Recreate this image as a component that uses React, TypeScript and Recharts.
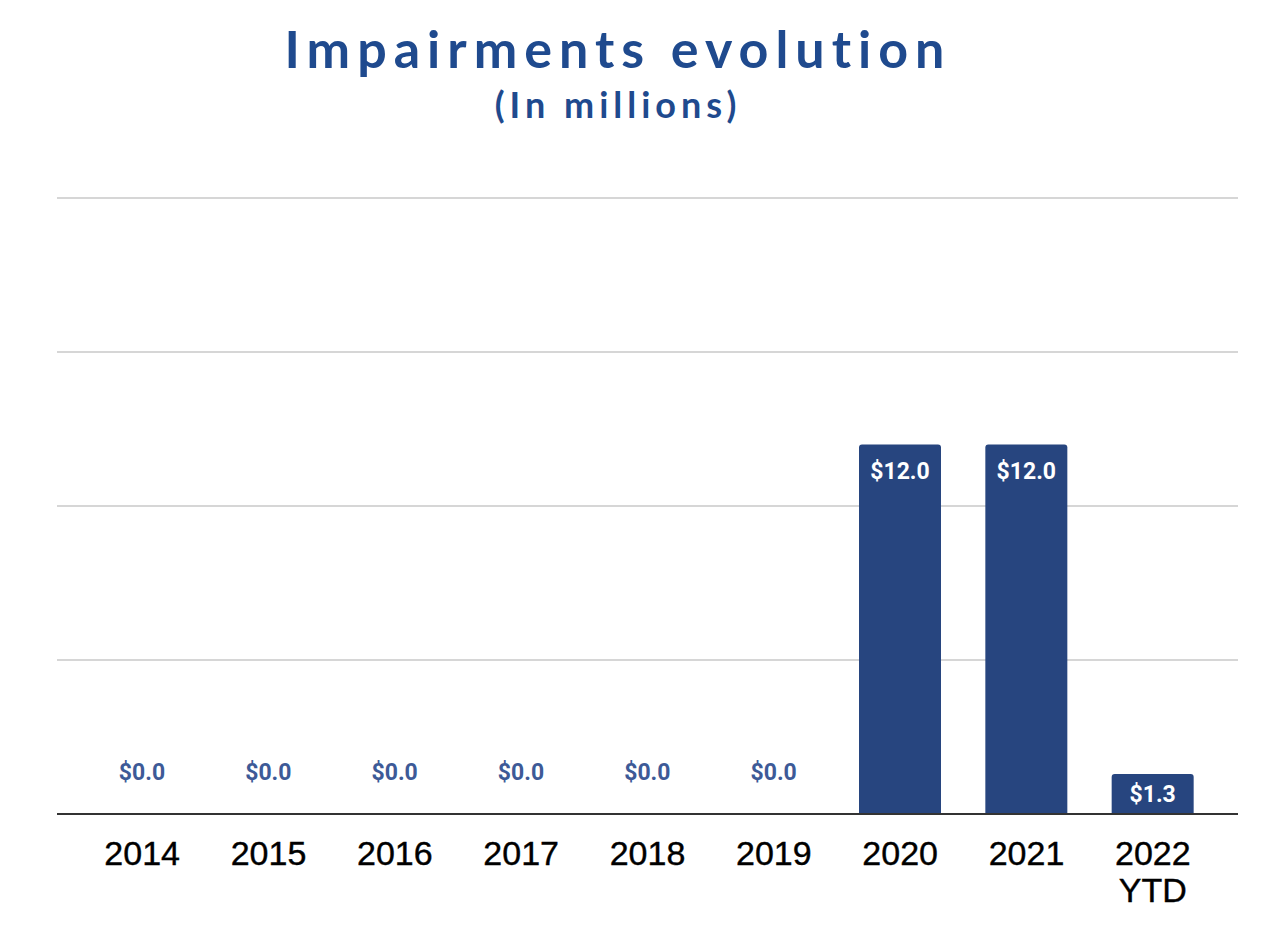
import React from "react";
import { BarChart, Bar, XAxis, YAxis, CartesianGrid, LabelList } from "recharts";

const categories = ["2014", "2015", "2016", "2017", "2018", "2019", "2020", "2021", "2022 YTD"];
const impairments = [0, 0, 0, 0, 0, 0, 12.0, 12.0, 1.3];
const yTicks = [0, 5, 10, 15, 20];

const data = categories.map((c, i) => ({ year: c, value: impairments[i] }));

const BAR_COLOR = "#27457f";

const renderLabel = (props: any) => {
  const { x, y, width, height, value } = props;
  const cx = Number(x) + Number(width) / 2;
  const text = `$${Number(value).toFixed(1)}`;
  if (!value) {
    return (
      <text x={cx} y={Number(y) + Number(height) - 42} textAnchor="middle" dominantBaseline="central" fill="#3d5a97"
        style={{ fontFamily: "Roboto", fontWeight: 700, fontSize: 23 }}>
        {text}
      </text>
    );
  }
  const ty = height < 60 ? y + height / 2 + 1 : y + 27;
  return (
    <text x={cx} y={ty} textAnchor="middle" dominantBaseline="central" fill="#ffffff"
      style={{ fontFamily: "Roboto", fontWeight: 700, fontSize: 23 }}>
      {text}
    </text>
  );
};

const Tick = (props: any) => {
  const { x, y, payload } = props;
  const lines = String(payload.value).split(" ");
  return (
    <g>
      {lines.map((l, i) => (
        <text key={i} x={x} y={y + 31 + i * 37} textAnchor="middle" dominantBaseline="central" fill="#000"
          stroke="#000" strokeWidth={0.4}
          style={{ fontFamily: "Liberation Sans", fontSize: 34 }}>
          {l}
        </text>
      ))}
    </g>
  );
};

export default function App() {
  return (
    <div style={{ position: "absolute", left: 0, top: 0, width: 1280, height: 939, background: "#fff" }}>
      <div style={{ position: "absolute", left: 0, width: 1236, top: 18, textAlign: "center", color: "#1f4a8e",
        fontFamily: "Lato", fontWeight: 700, fontSize: 52, letterSpacing: 7, lineHeight: "60px" }}>
        Impairments evolution
      </div>
      <div style={{ position: "absolute", left: 0, width: 1236, top: 84, textAlign: "center", color: "#1f4a8e",
        fontFamily: "Lato", fontWeight: 700, fontSize: 36, letterSpacing: 5, lineHeight: "40px" }}>
        (In millions)
      </div>
      <BarChart width={1280} height={939} data={data} margin={{ top: 198, right: 42, left: 57, bottom: 45 }}>
        <CartesianGrid vertical={false} stroke="#d6d6d6" strokeWidth={2} />
        <YAxis hide domain={[0, 20]} ticks={yTicks} />
        <XAxis dataKey="year" height={80} padding={{ left: 22, right: 22 }} tickLine={false}
          axisLine={{ stroke: "#333", strokeWidth: 2 }} tick={<Tick />} interval={0} />
        <Bar dataKey="value" fill={BAR_COLOR} barSize={82} minPointSize={1} radius={[3, 3, 0, 0]} isAnimationActive={false}>
          <LabelList dataKey="value" content={renderLabel} />
        </Bar>
      </BarChart>
    </div>
  );
}
